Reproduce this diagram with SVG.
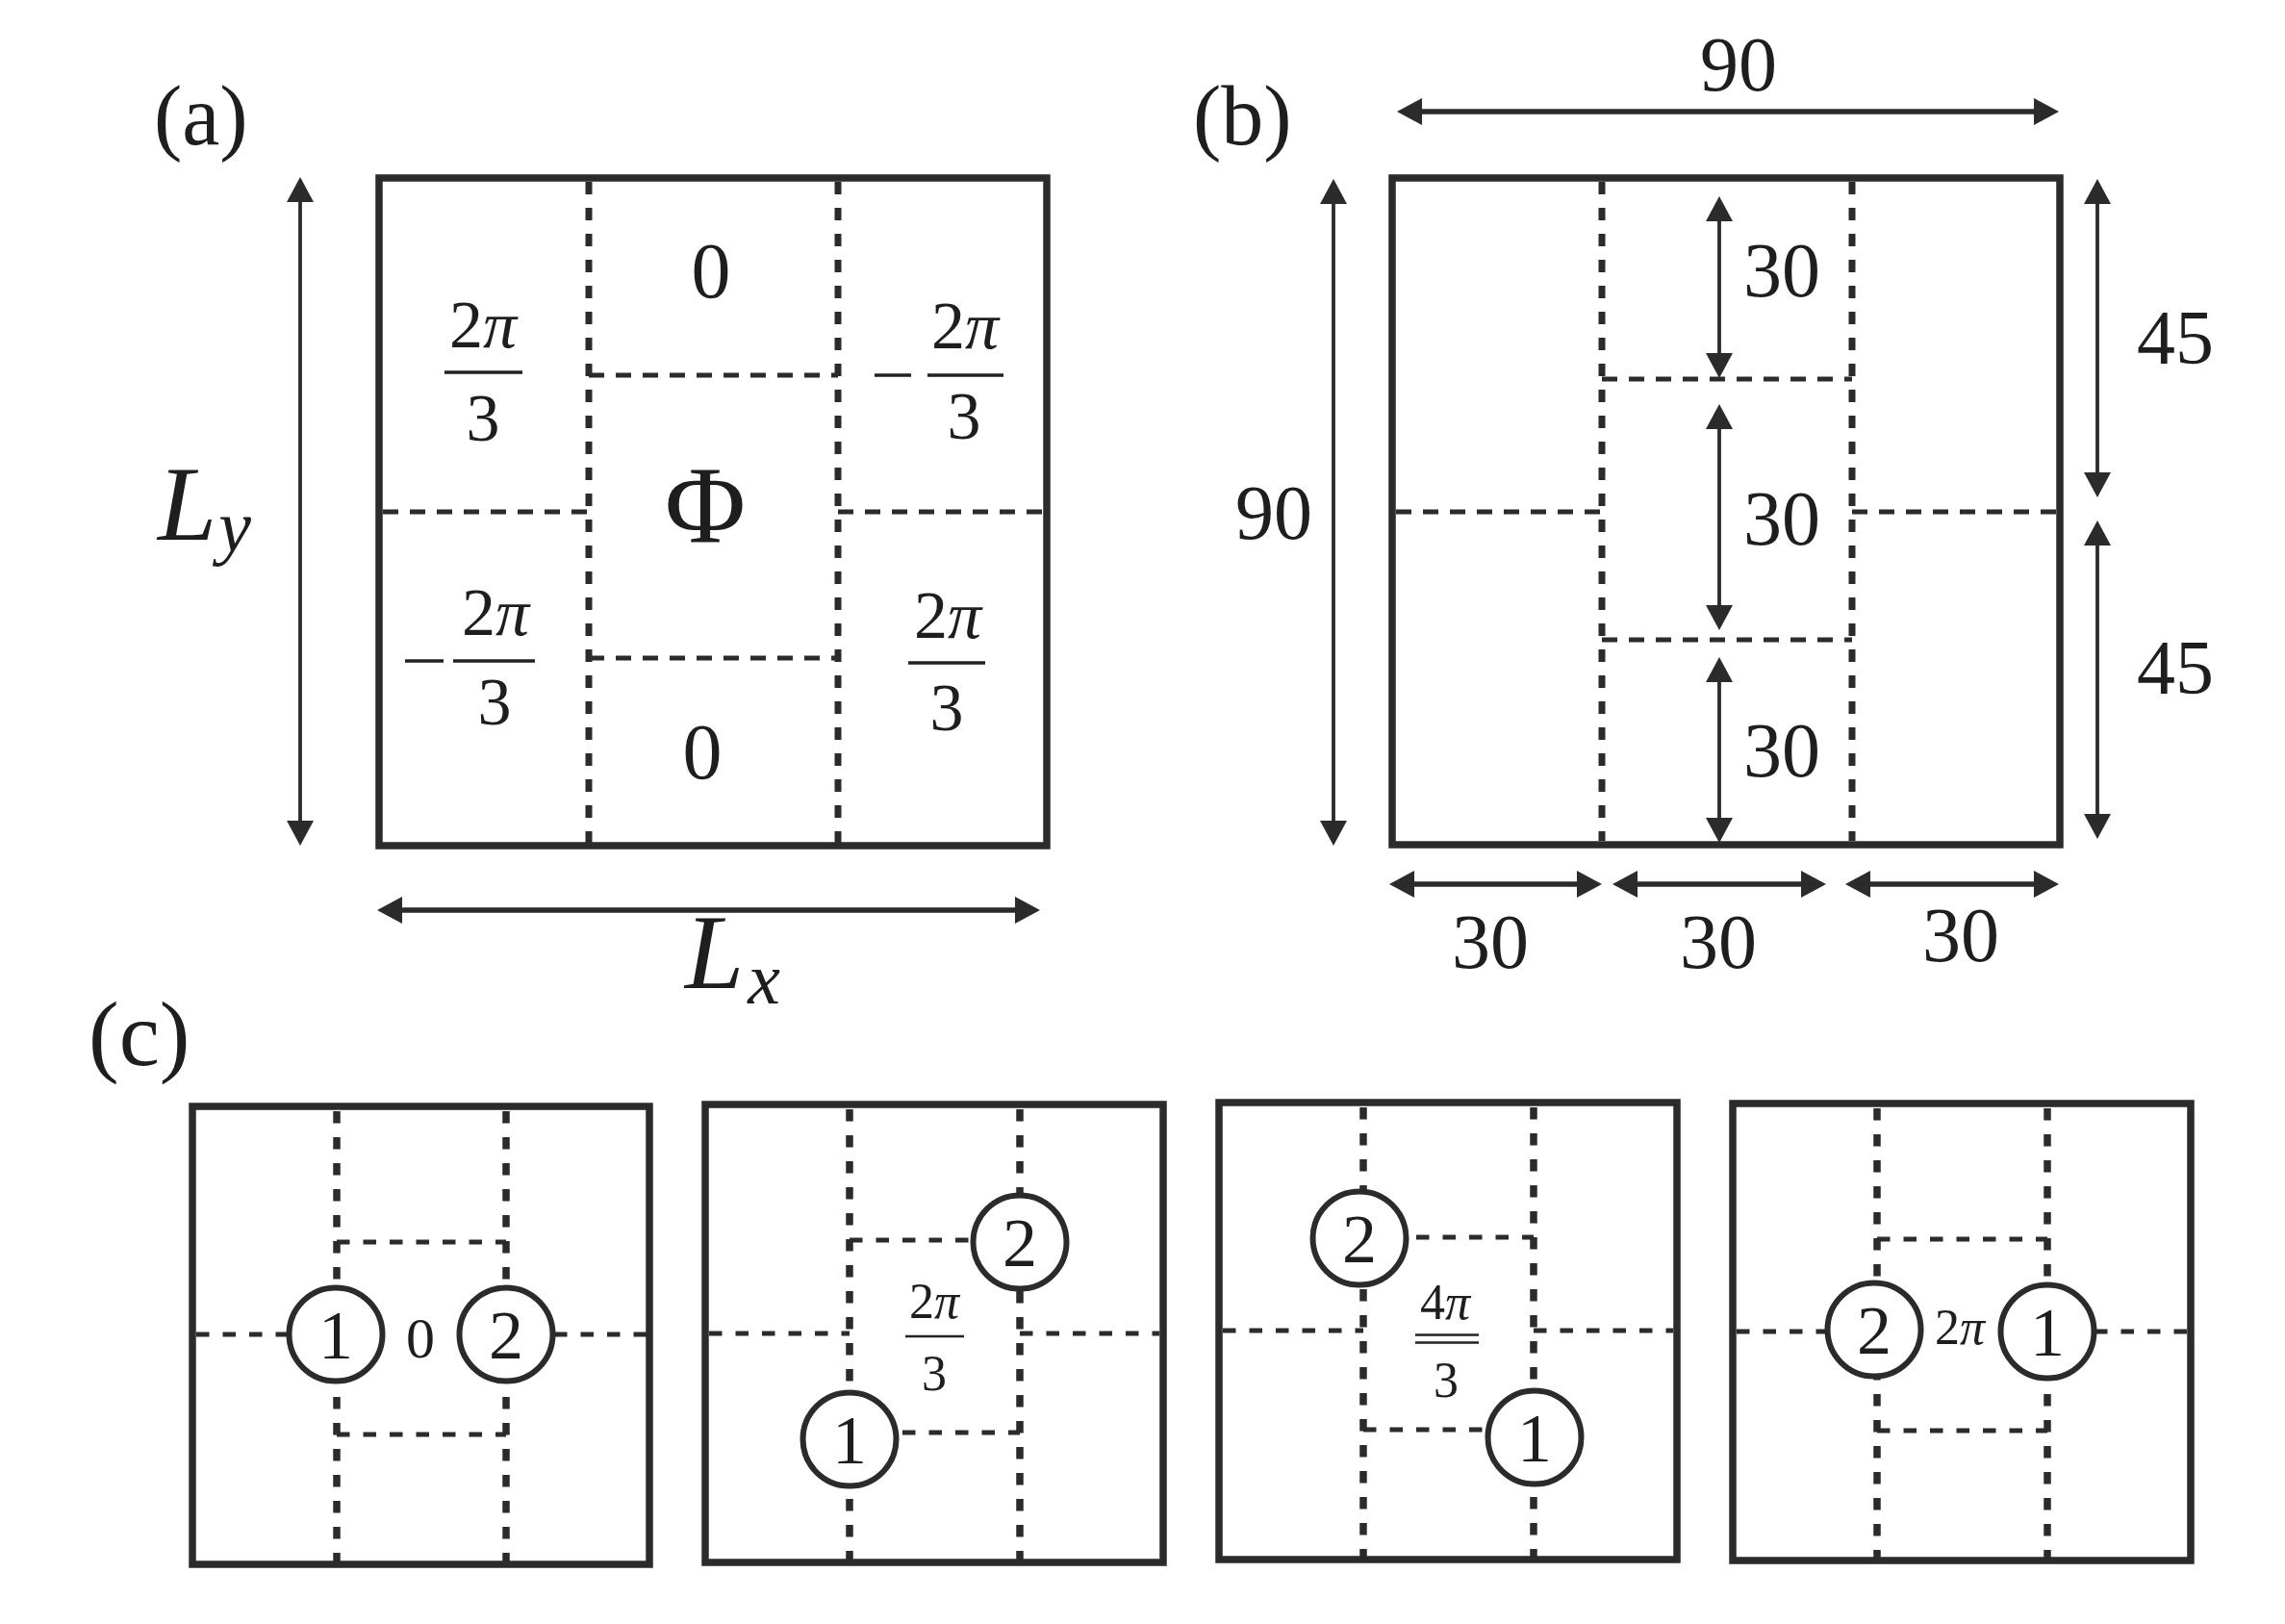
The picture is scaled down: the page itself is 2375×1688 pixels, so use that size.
<svg xmlns="http://www.w3.org/2000/svg" width="2375" height="1688" viewBox="0 0 2375 1688">
<style>
  .box{fill:none;stroke:#2b2b2b;stroke-width:7.5}
  .vd{fill:none;stroke:#2b2b2b;stroke-width:7;stroke-dasharray:13 14}
  .hd{fill:none;stroke:#2b2b2b;stroke-width:5;stroke-dasharray:16 12}
  .vdc{fill:none;stroke:#2b2b2b;stroke-width:7.5;stroke-dasharray:12.5 14.5}
  .hdc{fill:none;stroke:#2b2b2b;stroke-width:5;stroke-dasharray:13.5 14}
  .bar{stroke:#222;stroke-width:3.5}
  .barc{stroke:#222;stroke-width:2.5}
  .arH{fill:none;stroke:#2b2b2b;stroke-width:5.5;marker-start:url(#ah);marker-end:url(#ah)}
  .arV{fill:none;stroke:#2b2b2b;stroke-width:3.8;marker-start:url(#ah);marker-end:url(#ah)}
  .t{font-family:'Liberation Serif','Times New Roman',serif;fill:#1e1e1e;text-anchor:middle}
  .ts{font-family:'Liberation Serif','Times New Roman',serif;fill:#1e1e1e}
  .it{font-style:italic}
  .circ{fill:#fff;stroke:#2b2b2b;stroke-width:6}
</style>
<defs>
  <marker id="ah" markerUnits="userSpaceOnUse" markerWidth="26" markerHeight="28" viewBox="0 0 26 28" refX="12" refY="14" orient="auto-start-reverse">
    <path d="M0,0 L26,14 L0,28 z" fill="#2b2b2b"/>
  </marker>
</defs>
<rect width="2375" height="1688" fill="#fff"/>

<!-- Panel (a) -->
<g id="panel-a">
  <text class="ts" x="160" y="150" font-size="88">(a)</text>
  <g id="a-grid">
    <line class="vd" x1="612" y1="189" x2="612" y2="876"/>
    <line class="vd" x1="871" y1="189" x2="871" y2="876"/>
    <line class="hd" x1="612" y1="390" x2="871" y2="390"/>
    <line class="hd" x1="398" y1="532" x2="612" y2="532"/>
    <line class="hd" x1="871" y1="532" x2="1085" y2="532"/>
    <line class="hd" x1="612" y1="684" x2="871" y2="684"/>
  </g>
  <rect id="a-box" class="box" x="394" y="185" width="694" height="694"/>
  <g id="a-labels">
    <text class="t" x="739" y="309" font-size="82">0</text>
    <text class="t" x="730" y="809" font-size="82">0</text>
    <text class="t" x="733" y="563" font-size="115">Φ</text>
    <text class="t" x="502" y="361" font-size="70">2<tspan class="it">π</tspan></text>
    <line class="bar" x1="462" y1="387" x2="543" y2="387"/>
    <text class="t" x="502" y="458" font-size="70">3</text>
    <line class="bar" x1="909" y1="390" x2="947" y2="390"/>
    <text class="t" x="1003" y="362" font-size="70">2<tspan class="it">π</tspan></text>
    <line class="bar" x1="964" y1="390" x2="1043" y2="390"/>
    <text class="t" x="1002" y="456" font-size="70">3</text>
    <line class="bar" x1="421" y1="687" x2="461" y2="687"/>
    <text class="t" x="515" y="660" font-size="70">2<tspan class="it">π</tspan></text>
    <line class="bar" x1="471" y1="687" x2="556" y2="687"/>
    <text class="t" x="514" y="753" font-size="70">3</text>
    <text class="t" x="985" y="663" font-size="70">2<tspan class="it">π</tspan></text>
    <line class="bar" x1="944" y1="689" x2="1024" y2="689"/>
    <text class="t" x="984" y="759" font-size="70">3</text>
  </g>
  <text class="ts it" x="164" y="561" font-size="110">L<tspan font-size="76" dx="2" dy="12">y</tspan></text>
  <text class="ts it" x="712" y="1027" font-size="110">L<tspan font-size="76" dx="4" dy="16">x</tspan></text>
</g>

<!-- Panel (b) -->
<g id="panel-b">
  <text class="ts" x="1240" y="150" font-size="88">(b)</text>
  <g id="b-grid">
    <line class="vd" x1="1665" y1="189" x2="1665" y2="874"/>
    <line class="vd" x1="1925" y1="189" x2="1925" y2="874"/>
    <line class="hd" x1="1665" y1="394" x2="1925" y2="394"/>
    <line class="hd" x1="1451" y1="532" x2="1665" y2="532"/>
    <line class="hd" x1="1925" y1="532" x2="2137" y2="532"/>
    <line class="hd" x1="1665" y1="665" x2="1925" y2="665"/>
  </g>
  <rect id="b-box" class="box" x="1447" y="185" width="694" height="693"/>
  <g id="b-labels">
    <text class="t" x="1807" y="94" font-size="80">90</text>
    <text class="t" x="1324" y="560" font-size="80">90</text>
    <text class="t" x="2261" y="378" font-size="80">45</text>
    <text class="t" x="2261" y="721" font-size="80">45</text>
    <text class="t" x="1852" y="308" font-size="80">30</text>
    <text class="t" x="1852" y="566" font-size="80">30</text>
    <text class="t" x="1852" y="807" font-size="80">30</text>
    <text class="t" x="1549" y="1006" font-size="80">30</text>
    <text class="t" x="1786" y="1006" font-size="80">30</text>
    <text class="t" x="2038" y="999" font-size="80">30</text>
  </g>
</g>

<!-- Connectors (dimension arrows) -->
<g id="connectors">
  <line class="arV" x1="312" y1="198" x2="312" y2="865"/>
  <line class="arH" x1="406" y1="946" x2="1067" y2="946"/>
  <line class="arH" x1="1466" y1="116" x2="2126" y2="116"/>
  <line class="arV" x1="1386" y1="200" x2="1386" y2="865"/>
  <line class="arV" x1="2180" y1="200" x2="2180" y2="503"/>
  <line class="arV" x1="2180" y1="555" x2="2180" y2="858"/>
  <line class="arV" x1="1787" y1="218" x2="1787" y2="379"/>
  <line class="arV" x1="1787" y1="434" x2="1787" y2="641"/>
  <line class="arV" x1="1787" y1="697" x2="1787" y2="862"/>
  <line class="arH" x1="1458" y1="919" x2="1651" y2="919"/>
  <line class="arH" x1="1690" y1="919" x2="1884" y2="919"/>
  <line class="arH" x1="1932" y1="919" x2="2126" y2="919"/>
</g>

<!-- Panel (c) -->
<g id="panel-c">
  <text class="ts" x="92" y="1107" font-size="95">(c)</text>

  <g id="c1">
    <line class="vdc" x1="350" y1="1155" x2="350" y2="1630"/>
    <line class="vdc" x1="526" y1="1155" x2="526" y2="1630"/>
    <line class="hdc" x1="350" y1="1291" x2="526" y2="1291"/>
    <line class="hdc" x1="204" y1="1387" x2="300" y2="1387"/>
    <line class="hdc" x1="576" y1="1387" x2="672" y2="1387"/>
    <line class="hdc" x1="350" y1="1491" x2="526" y2="1491"/>
    <rect class="box" x="200" y="1150" width="475" height="476"/>
    <g id="c1-n1"><circle class="circ" cx="349" cy="1387" r="48.5"/><text class="t" x="349" y="1412" font-size="72">1</text></g>
    <g id="c1-n2"><circle class="circ" cx="526" cy="1387" r="48.5"/><text class="t" x="526" y="1412" font-size="72">2</text></g>
    <text class="t" x="437" y="1411" font-size="60">0</text>
  </g>

  <g id="c2">
    <line class="vdc" x1="883" y1="1153" x2="883" y2="1628"/>
    <line class="vdc" x1="1060" y1="1153" x2="1060" y2="1628"/>
    <line class="hdc" x1="883" y1="1289" x2="1060" y2="1289"/>
    <line class="hdc" x1="737" y1="1386" x2="883" y2="1386"/>
    <line class="hdc" x1="1060" y1="1386" x2="1205" y2="1386"/>
    <line class="hdc" x1="883" y1="1489" x2="1060" y2="1489"/>
    <rect class="box" x="733" y="1148" width="476" height="476"/>
    <g id="c2-n2"><circle class="circ" cx="1060" cy="1291" r="48.5"/><text class="t" x="1060" y="1316" font-size="72">2</text></g>
    <g id="c2-n1"><circle class="circ" cx="883" cy="1496" r="48.5"/><text class="t" x="883" y="1521" font-size="72">1</text></g>
    <text class="t" x="971" y="1370" font-size="52">2<tspan class="it">π</tspan></text>
    <line class="barc" x1="941" y1="1389" x2="1002" y2="1389"/>
    <text class="t" x="971" y="1445" font-size="52">3</text>
  </g>

  <g id="c3">
    <line class="vdc" x1="1417" y1="1151" x2="1417" y2="1625"/>
    <line class="vdc" x1="1594" y1="1151" x2="1594" y2="1625"/>
    <line class="hdc" x1="1417" y1="1286" x2="1594" y2="1286"/>
    <line class="hdc" x1="1271" y1="1383" x2="1417" y2="1383"/>
    <line class="hdc" x1="1594" y1="1383" x2="1739" y2="1383"/>
    <line class="hdc" x1="1417" y1="1486" x2="1594" y2="1486"/>
    <rect class="box" x="1267" y="1146" width="476" height="475"/>
    <g id="c3-n2"><circle class="circ" cx="1413" cy="1287" r="48.5"/><text class="t" x="1413" y="1312" font-size="72">2</text></g>
    <g id="c3-n1"><circle class="circ" cx="1595" cy="1494" r="48.5"/><text class="t" x="1595" y="1519" font-size="72">1</text></g>
    <text class="t" x="1502" y="1371" font-size="52">4<tspan class="it">π</tspan></text>
    <line class="barc" x1="1471" y1="1387.5" x2="1537" y2="1387.5"/>
    <line class="barc" x1="1471" y1="1395.5" x2="1537" y2="1395.5"/>
    <text class="t" x="1503" y="1452" font-size="52">3</text>
  </g>

  <g id="c4">
    <line class="vdc" x1="1951" y1="1152" x2="1951" y2="1627"/>
    <line class="vdc" x1="2128" y1="1152" x2="2128" y2="1627"/>
    <line class="hdc" x1="1951" y1="1288" x2="2128" y2="1288"/>
    <line class="hdc" x1="1805" y1="1384" x2="1900" y2="1384"/>
    <line class="hdc" x1="2177" y1="1384" x2="2273" y2="1384"/>
    <line class="hdc" x1="1951" y1="1487" x2="2128" y2="1487"/>
    <rect class="box" x="1801" y="1147" width="476" height="475"/>
    <g id="c4-n2"><circle class="circ" cx="1948" cy="1382" r="48.5"/><text class="t" x="1948" y="1407" font-size="72">2</text></g>
    <g id="c4-n1"><circle class="circ" cx="2128" cy="1384" r="48.5"/><text class="t" x="2128" y="1409" font-size="72">1</text></g>
    <text class="t" x="2037" y="1397" font-size="52">2<tspan class="it">π</tspan></text>
  </g>
</g>
</svg>
